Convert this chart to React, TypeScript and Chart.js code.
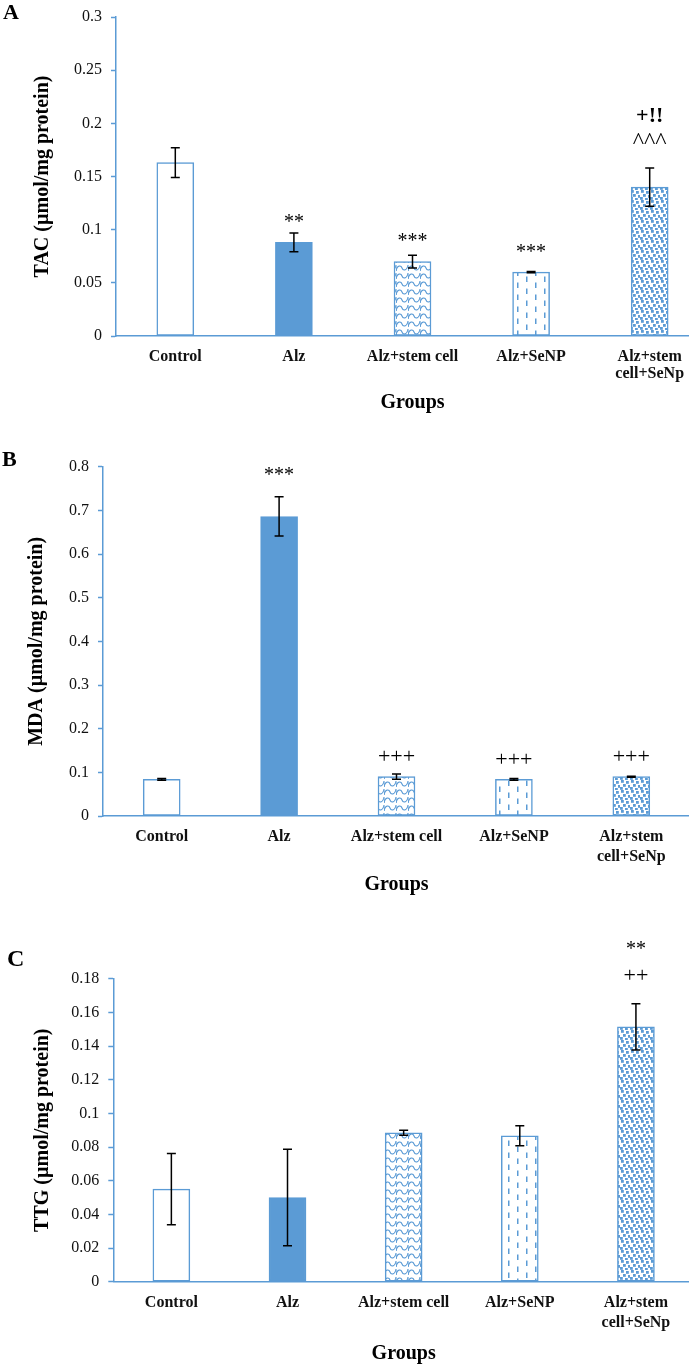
import React, { useEffect, useRef } from 'react';
import { Chart, registerables } from 'chart.js';

Chart.register(...registerables);

// ---- data ----
const GROUPS: (string | string[])[] = ['Control', 'Alz', 'Alz+stem cell', 'Alz+SeNP', ['Alz+stem', 'cell+SeNp']];

const TAC_MEAN = [0.163, 0.088, 0.070, 0.060, 0.140];
const TAC_ERR = [0.014, 0.0088, 0.006, 0.0006, 0.018];
const TAC_TICKS = ['0', '0.05', '0.1', '0.15', '0.2', '0.25', '0.3'];
const TAC_MARKS = [[], ['**'], ['***'], ['***'], ['^^^', '+!!']];

const MDA_MEAN = [0.084, 0.686, 0.090, 0.084, 0.090];
const MDA_ERR = [0.002, 0.045, 0.006, 0.002, 0.001];
const MDA_TICKS = ['0', '0.1', '0.2', '0.3', '0.4', '0.5', '0.6', '0.7', '0.8'];
const MDA_MARKS = [[], ['***'], ['+++'], ['+++'], ['+++']];

const TTG_MEAN = [0.055, 0.050, 0.0885, 0.0867, 0.1514];
const TTG_ERR = [0.0212, 0.0287, 0.0015, 0.006, 0.0137];
const TTG_TICKS = ['0', '0.02', '0.04', '0.06', '0.08', '0.1', '0.12', '0.14', '0.16', '0.18'];
const TTG_MARKS = [[], [], [], [], ['++', '**']];

// ---- styling ----
const BLUE = '#5B9BD5';
const SERIF = "'Liberation Serif', 'Times New Roman', serif";

function tile(w: number, h: number, draw: (g: CanvasRenderingContext2D) => void): CanvasPattern {
  const c = document.createElement('canvas');
  c.width = w;
  c.height = h;
  const g = c.getContext('2d')!;
  g.fillStyle = '#ffffff';
  g.fillRect(0, 0, w, h);
  draw(g);
  return g.createPattern(c, 'repeat')!;
}

function makeFills(): (string | CanvasPattern)[] {
  // interlocking scallop waves
  const wave = tile(12, 8, (g) => {
    g.strokeStyle = BLUE;
    g.lineWidth = 1.1;
    g.beginPath();
    g.moveTo(0, 7);
    g.bezierCurveTo(1, 1, 5, 1, 6, 4);
    g.bezierCurveTo(7, 7, 11, 7, 12, 1);
    g.stroke();
    g.beginPath();
    g.moveTo(0, 1);
    g.lineTo(0, 7);
    g.stroke();
  });
  const dashes = tile(18, 12, (g) => {
    g.fillStyle = BLUE;
    g.fillRect(4, 0.5, 1.5, 5.5);
    g.fillRect(13, 6.5, 1.5, 5.5);
  });
  const dots = tile(10, 10, (g) => {
    g.fillStyle = BLUE;
    const spots = [[1, 0], [6, 1], [3, 4], [8, 5], [0, 7], [5, 8]];
    spots.forEach(([x, y]) => g.fillRect(x, y, 2.8, 2.8));
  });
  return ['#ffffff', BLUE, wave, dashes, dots];
}

function markFont(t: string): string {
  if (t.includes('!')) return `bold 22px ${SERIF}`;
  if (t.includes('^')) return `24px ${SERIF}`;
  if (t.includes('+')) return `22px ${SERIF}`;
  return `20px ${SERIF}`;
}

function errorBarsPlugin(mean: number[], err: number[]) {
  return {
    id: 'errorBars',
    afterDatasetsDraw(chart: any) {
      const { ctx } = chart;
      const y = chart.scales.y;
      const meta = chart.getDatasetMeta(0);
      ctx.save();
      ctx.strokeStyle = '#000000';
      ctx.lineWidth = 1.5;
      meta.data.forEach((bar: any, i: number) => {
        const top = y.getPixelForValue(mean[i] + err[i]);
        const bot = y.getPixelForValue(mean[i] - err[i]);
        const x = bar.x;
        ctx.beginPath();
        ctx.moveTo(x, top);
        ctx.lineTo(x, bot);
        ctx.moveTo(x - 4.5, top);
        ctx.lineTo(x + 4.5, top);
        ctx.moveTo(x - 4.5, bot);
        ctx.lineTo(x + 4.5, bot);
        ctx.stroke();
      });
      ctx.restore();
    },
  };
}

function marksPlugin(mean: number[], marks: string[][], lifts: number[], gap: number) {
  return {
    id: 'sigMarks',
    afterDatasetsDraw(chart: any) {
      const { ctx } = chart;
      const y = chart.scales.y;
      const meta = chart.getDatasetMeta(0);
      ctx.save();
      ctx.fillStyle = '#000000';
      ctx.textAlign = 'center';
      ctx.textBaseline = 'alphabetic';
      marks.forEach((lines, i) => {
        let base = y.getPixelForValue(mean[i]) - lifts[i];
        const x = meta.data[i].x;
        lines.forEach((t) => {
          ctx.font = markFont(t);
          ctx.fillText(t, x, base);
          base -= gap;
        });
      });
      ctx.restore();
    },
  };
}

function letterPlugin(letter: string, x: number, y: number, size: number) {
  return {
    id: 'panelLetter',
    afterDraw(chart: any) {
      const { ctx } = chart;
      ctx.save();
      ctx.fillStyle = '#000000';
      ctx.font = `bold ${size}px ${SERIF}`;
      ctx.textAlign = 'left';
      ctx.textBaseline = 'middle';
      ctx.fillText(letter, x, y);
      ctx.restore();
    },
  };
}

interface Panel {
  letter: string;
  top: number;
  width: number;
  height: number;
  plotTop: number;
  yWidth: number;
  rightPad: number;
  xHeight: number;
  yTitlePad: number;
  xTickPad: number;
  xTickLine: number;
  groupsPad: number;
  letterPos: [number, number, number];
  mean: number[];
  err: number[];
  ticks: string[];
  max: number;
  step: number;
  yTitle: string;
  marks: string[][];
  lifts: number[];
  markGap: number;
}

const PANELS: Panel[] = [
  {
    letter: 'A', top: 0, width: 720, height: 420, plotTop: 12, yWidth: 116, rightPad: 11, xHeight: 84,
    yTitlePad: 31, xTickPad: 12.6, xTickLine: 1.04, groupsPad: 5, letterPos: [3, 13, 22],
    mean: TAC_MEAN, err: TAC_ERR, ticks: TAC_TICKS, max: 0.3, step: 0.05,
    yTitle: 'TAC (µmol/mg protein)', marks: TAC_MARKS, lifts: [0, 14.5, 15, 14, 39], markGap: 26.5,
  },
  {
    letter: 'B', top: 420, width: 700, height: 480, plotTop: 46.7, yWidth: 103, rightPad: 10, xHeight: 84,
    yTitlePad: 25, xTickPad: 10.7, xTickLine: 1.25, groupsPad: 3, letterPos: [2, 40, 22],
    mean: MDA_MEAN, err: MDA_ERR, ticks: MDA_TICKS, max: 0.8, step: 0.1,
    yTitle: 'MDA (µmol/mg protein)', marks: MDA_MARKS, lifts: [0, 35.4, 13.7, 13.5, 14.2], markGap: 26,
  },
  {
    letter: 'C', top: 900, width: 705, height: 466, plotTop: 78.7, yWidth: 113.3, rightPad: 11, xHeight: 84.3,
    yTitlePad: 31, xTickPad: 11.6, xTickLine: 1.25, groupsPad: 0, letterPos: [7, 60, 24],
    mean: TTG_MEAN, err: TTG_ERR, ticks: TTG_TICKS, max: 0.18, step: 0.02,
    yTitle: 'TTG (µmol/mg protein)', marks: TTG_MARKS, lifts: [0, 0, 0, 0, 45], markGap: 26.8,
  },
];

function BarPanel({ p }: { p: Panel }) {
  const ref = useRef<HTMLCanvasElement | null>(null);

  useEffect(() => {
    if (!ref.current) return;
    const chart = new Chart(ref.current, {
      type: 'bar',
      data: {
        labels: GROUPS as any,
        datasets: [
          {
            data: p.mean,
            backgroundColor: makeFills() as any,
            borderColor: BLUE,
            borderWidth: 1.5,
            borderSkipped: false,
            barThickness: 37,
          },
        ],
      },
      options: {
        responsive: false,
        animation: false,
        devicePixelRatio: 1,
        layout: { padding: { left: 0, right: p.rightPad, top: p.plotTop, bottom: 0 } },
        plugins: {
          legend: { display: false },
          tooltip: { enabled: false },
        },
        scales: {
          x: {
            grid: { display: false, drawTicks: false },
            border: { display: true, color: BLUE, width: 1.5 },
            ticks: {
              color: '#111111',
              autoSkip: false,
              maxRotation: 0,
              padding: p.xTickPad,
              font: { family: SERIF, size: 16, weight: 'bold', lineHeight: p.xTickLine },
            },
            title: {
              display: true,
              text: 'Groups',
              color: '#000000',
              font: { family: SERIF, size: 20, weight: 'bold', lineHeight: 1.2 },
              padding: { top: 0, bottom: p.groupsPad },
            },
            afterFit: (s: any) => {
              s.height = p.xHeight;
            },
          },
          y: {
            min: 0,
            max: p.max,
            grid: { drawOnChartArea: false, drawTicks: true, tickLength: 5, tickColor: BLUE, tickWidth: 1.5, color: BLUE },
            border: { display: true, color: BLUE, width: 1.5 },
            ticks: {
              stepSize: p.step,
              color: '#111111',
              padding: 9,
              font: { family: SERIF, size: 16, lineHeight: 1 },
              callback: (v: any) => {
                const hit = p.ticks.find((t) => Math.abs(Number(t) - Number(v)) < 1e-9);
                return hit ?? '';
              },
            },
            title: {
              display: true,
              text: p.yTitle,
              color: '#000000',
              font: { family: SERIF, size: 20, weight: 'bold', lineHeight: 1.2 },
              padding: { top: p.yTitlePad, bottom: 0 },
            },
            afterFit: (s: any) => {
              s.width = p.yWidth;
            },
          },
        },
      } as any,
      plugins: [
        errorBarsPlugin(p.mean, p.err),
        marksPlugin(p.mean, p.marks, p.lifts, p.markGap),
        letterPlugin(p.letter, p.letterPos[0], p.letterPos[1], p.letterPos[2]),
      ],
    });
    return () => chart.destroy();
  }, [p]);

  return (
    <canvas
      ref={ref}
      width={p.width}
      height={p.height}
      style={{ position: 'absolute', left: 0, top: p.top, width: p.width, height: p.height }}
    />
  );
}

export default function App() {
  return (
    <div
      style={{
        position: 'absolute',
        left: 0,
        top: 0,
        width: 689,
        height: 1365,
        overflow: 'hidden',
        background: '#ffffff',
      }}
    >
      {PANELS.map((p) => (
        <BarPanel key={p.letter} p={p} />
      ))}
    </div>
  );
}
